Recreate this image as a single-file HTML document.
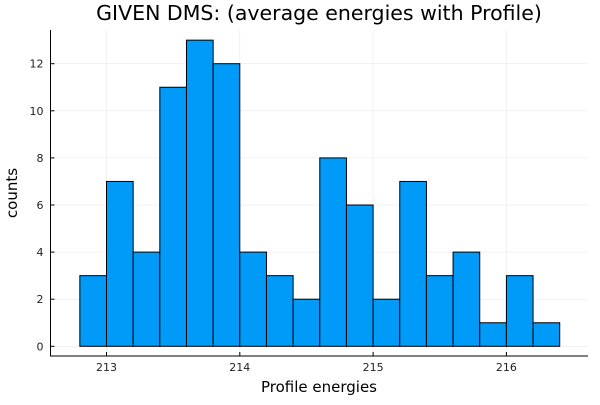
<!DOCTYPE html>
<html><head><style>
body{margin:0;background:#fff;}
svg text{font-family:"DejaVu Sans","Liberation Sans",sans-serif;fill:#000;}
svg text.tick{fill:#222;}
</style></head><body>
<svg id="c" width="600" height="400"></svg>
<script>
const binEdgesStart = 212.8;
const binWidth = 0.2;
const counts = [3,7,4,11,13,12,4,3,2,8,6,2,7,3,4,1,3,1];
const xTicks = [213,214,215,216];
const yTicks = [0,2,4,6,8,10,12];
const NS='http://www.w3.org/2000/svg';
const svg=document.getElementById('c');
const X=v=>106.5+(v-213)*133.3;
const Y=v=>346.3-v*23.55;
function el(t,a,p){const e=document.createElementNS(NS,t);for(const k in a)e.setAttribute(k,a[k]);(p||svg).appendChild(e);return e;}
const L=50.5,R=588,T=30,B=356;
for(const t of xTicks){const g=el('line',{x1:X(t),x2:X(t),y1:T,y2:B,stroke:'#000','stroke-opacity':0.1,'stroke-width':0.5});
}
for(const t of yTicks){const g=el('line',{x1:L,x2:R,y1:Y(t),y2:Y(t),stroke:'#000','stroke-opacity':0.1,'stroke-width':0.5});
}
counts.forEach((c,i)=>{const x0=X(binEdgesStart+i*binWidth),x1=X(binEdgesStart+(i+1)*binWidth);
const r=el('rect',{x:x0,y:Y(c),width:x1-x0,height:Y(0)-Y(c),fill:'#009af9',stroke:'#000','stroke-width':1});
});
const ax=el('path',{d:`M${L},${T} V${B} H${R}`,fill:'none',stroke:'#000','stroke-width':1});

for(const t of xTicks){el('line',{x1:X(t),x2:X(t),y1:B,y2:B-4,stroke:'#000'});
const tx=el('text',{x:X(t),y:B+15,'font-size':11,'text-anchor':'middle',class:'tick'});tx.textContent=t;
}
for(const t of yTicks){el('line',{x1:L,x2:L+4,y1:Y(t),y2:Y(t),stroke:'#000'});
const tx=el('text',{x:L-7,y:Y(t)+4,'font-size':11,'text-anchor':'end',class:'tick'});tx.textContent=t;
}
</script>
<svg width="600" height="400" style="position:absolute;left:0;top:0">
<text x="319" y="20" font-size="20.5" text-anchor="middle">GIVEN DMS: (average energies with Profile)</text>
<text x="319" y="392" font-size="15" text-anchor="middle">Profile energies</text>
<text transform="translate(17,193) rotate(-90)" font-size="15" text-anchor="middle">counts</text>
</svg>
</body></html>
